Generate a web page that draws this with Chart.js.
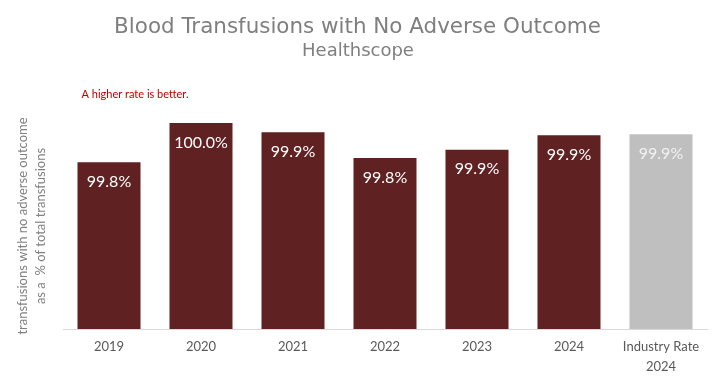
<!DOCTYPE html>
<html>
<head>
<meta charset="utf-8">
<script src="https://cdn.jsdelivr.net/npm/chart.js@4.4.1/dist/chart.umd.min.js"></script>
<style>
html,body{margin:0;padding:0;background:#fff;}
#wrap{width:718px;height:378px;position:relative;}
</style>
</head>
<body>
<div id="wrap"><canvas id="c" width="718" height="378"></canvas></div>
<script>
const categories = [["2019"], ["2020"], ["2021"], ["2022"], ["2023"], ["2024"], ["Industry Rate", "2024"]];
const values = [99.81, 100.0, 99.955, 99.83, 99.87, 99.94, 99.945];
const valueLabels = ["99.8%", "100.0%", "99.9%", "99.8%", "99.9%", "99.9%", "99.9%"];
const barColors = ["#5f2121", "#5f2121", "#5f2121", "#5f2121", "#5f2121", "#5f2121", "#bfbfbf"];
const labelColors = ["#ffffff", "#ffffff", "#ffffff", "#ffffff", "#ffffff", "#ffffff", "#f2f2f2"];
const titleText = "Blood Transfusions with No Adverse Outcome";
const subtitleText = "Healthscope";
const noteText = "A higher rate is better.";
const yTitleLines = ["transfusions with no adverse outcome", "as a  % of total transfusions"];

function fitFont(ctx, text, family, weight, targetW) {
  let size = 20;
  ctx.font = weight + " " + size + "px " + family;
  const w = ctx.measureText(text).width;
  return size * targetW / w;
}

const textPlugin = {
  id: 'texts',
  afterDraw(chart) {
    const ctx = chart.ctx;
    ctx.save();
    // title
    const fam = "'DejaVu Sans ExtraLight', 'DejaVu Sans'";
    let ts = fitFont(ctx, titleText, fam, "normal", 487);
    ctx.font = "normal " + ts + "px " + fam;
    ctx.fillStyle = "#7f7f7f";
    ctx.textAlign = "center";
    ctx.textBaseline = "alphabetic";
    ctx.fillText(titleText, 357.5, 33);
    let ss = fitFont(ctx, subtitleText, fam, "normal", 112);
    ctx.font = "normal " + ss + "px " + fam;
    ctx.fillText(subtitleText, 358, 56);
    // note
    ctx.font = "11px Lato";
    ctx.fillStyle = "#c00000";
    ctx.textAlign = "left";
    ctx.fillText(noteText, 81.5, 97.5);
    // y title
    ctx.font = "13px Lato";
    ctx.fillStyle = "#7f7f7f";
    ctx.textAlign = "center";
    ctx.textBaseline = "middle";
    const cy = (chart.chartArea.top + chart.chartArea.bottom) / 2;
    ctx.translate(0, cy);
    ctx.rotate(-Math.PI / 2);
    ctx.fillText(yTitleLines[0], 0, 22.5);
    ctx.fillText(yTitleLines[1], 0, 41);
    ctx.restore();

    // value labels
    const meta = chart.getDatasetMeta(0);
    ctx.save();
    ctx.font = "16px Lato";
    ctx.textAlign = "center";
    ctx.textBaseline = "middle";
    meta.data.forEach((bar, i) => {
      ctx.fillStyle = labelColors[i];
      ctx.fillText(valueLabels[i], bar.x, bar.y + 19.5);
    });
    ctx.restore();
  }
};

new Chart(document.getElementById('c'), {
  type: 'bar',
  data: {
    labels: categories,
    datasets: [{
      data: values,
      backgroundColor: barColors,
      borderWidth: 0,
      categoryPercentage: 1.0,
      barPercentage: 0.685
    }]
  },
  options: {
    responsive: false,
    animation: false,
    events: [],
    layout: { padding: { top: 123, left: 63, right: 11, bottom: 0 } },
    plugins: {
      legend: { display: false },
      tooltip: { enabled: false },
      title: { display: false }
    },
    scales: {
      x: {
        grid: { display: false, drawTicks: false },
        border: { display: true, color: "#d9d9d9", width: 1 },
        ticks: {
          color: "#595959",
          font: { family: "Lato", size: 13, lineHeight: 1.55 },
          padding: 8,
          maxRotation: 0,
          autoSkip: false
        },
        afterFit(scale) { scale.height = 49; }
      },
      y: {
        display: false,
        min: 99,
        max: 100
      }
    }
  },
  plugins: [textPlugin]
});
</script>
</body>
</html>
